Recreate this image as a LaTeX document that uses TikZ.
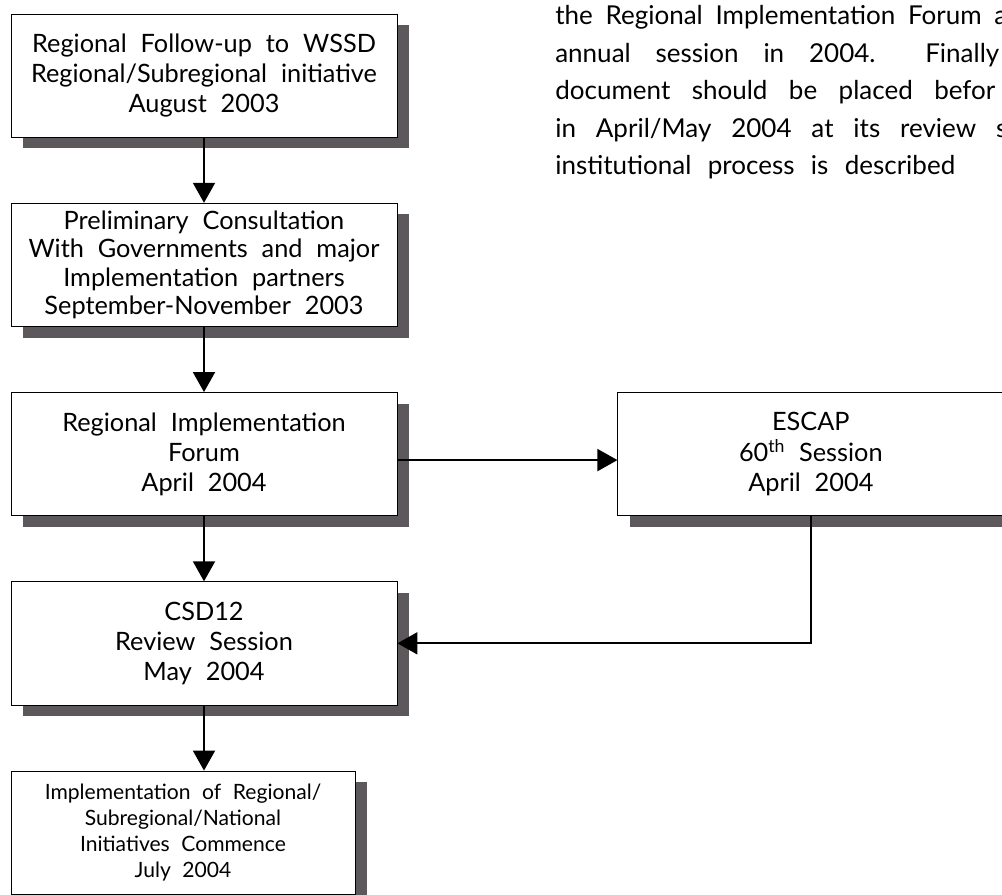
\documentclass[tikz,border=0pt]{standalone}
\usepackage{fontspec}
\setmainfont{Lato}
\usepackage{xcolor}
\usepackage{tikz}
\usetikzlibrary{arrows.meta,positioning,shadows}
\definecolor{shadowgray}{RGB}{92,88,92}
\newcommand{\widespaces}{\spaceskip=0.55em plus 0.2em minus 0.1em\relax}
\tikzset{
	stage/.style={
		rectangle,
		draw=black,
		line width=0.6pt,
		fill=white,
		align=center,
		inner ysep=1pt,
		minimum width=9.65cm,
		minimum height=3.08cm,
		font=\fontsize{18}{21.5}\selectfont\widespaces,
		drop shadow={shadow xshift=0.3cm,shadow yshift=-0.28cm,fill=shadowgray,opacity=1}
	},
	flow/.style={-{Triangle[width=5.5mm,length=5mm]},line width=1.4pt},
	para/.style={anchor=west,inner sep=0pt,font=\fontsize{18.5}{22}\selectfont}
}

\begin{document}
\begin{tikzpicture}[node distance=1.63cm and 5.5cm]
		\useasboundingbox (0,0) rectangle (25.05,-22.375);
		\clip (0,0) rectangle (25.05,-22.375);

		\node[stage] (follow) at (5.1,-1.89) {Regional Follow-up to WSSD\\Regional/Subregional initiative\\August 2003};
		\node[stage,below=of follow,font=\fontsize{18}{20}\selectfont\widespaces] (prelim) {Preliminary Consultation\\With Governments and major\\Implementation partners\\September-November 2003};
		\node[stage,below=of prelim] (forum) {Regional Implementation\\Forum\\April 2004};
		\node[stage,right=of forum] (escap) {ESCAP\\60\textsuperscript{th} Session\\April 2004};
		\node[stage,below=of forum] (csd) {CSD12\\Review Session\\May 2004};
		\node[stage,below right=1.63cm and 0cm of csd.south west,minimum width=8.6cm,
			font=\fontsize{15}{18.5}\selectfont\widespaces] (commence) {Implementation of Regional/\\Subregional/National\\Initiatives Commence\\July 2004};

		% text of the page beside the chart
		\node[para] (lineA) at (13.875,-0.425) {\makebox[11.3cm][s]{the Regional Implementation Forum a}};
		\node[para] (lineB) at (13.875,-1.375) {\makebox[11.1cm][s]{annual session in 2004.\ \ Finally}};
		\node[para] (lineC) at (13.875,-2.31) {\makebox[11.0cm][s]{document should be placed befor}};
		\node[para] (lineD) at (13.875,-3.25) {\makebox[11.3cm][s]{in April/May 2004 at its review s}};
		\node[para] (lineE) at (13.875,-4.19) {\makebox[10cm][s]{institutional process is described}};

		\draw[flow] (follow) -- (prelim);
		\draw[flow] (prelim) -- (forum);
		\draw[flow] (forum) -- (csd);
		\draw[flow] (csd) -- (commence.north -| csd.south);
		\draw[flow] ([yshift=-0.15cm]forum.east) -- ([yshift=-0.15cm]escap.west);
		\draw[flow] (escap.south) |- (csd.east);
	\end{tikzpicture}
\end{document}
